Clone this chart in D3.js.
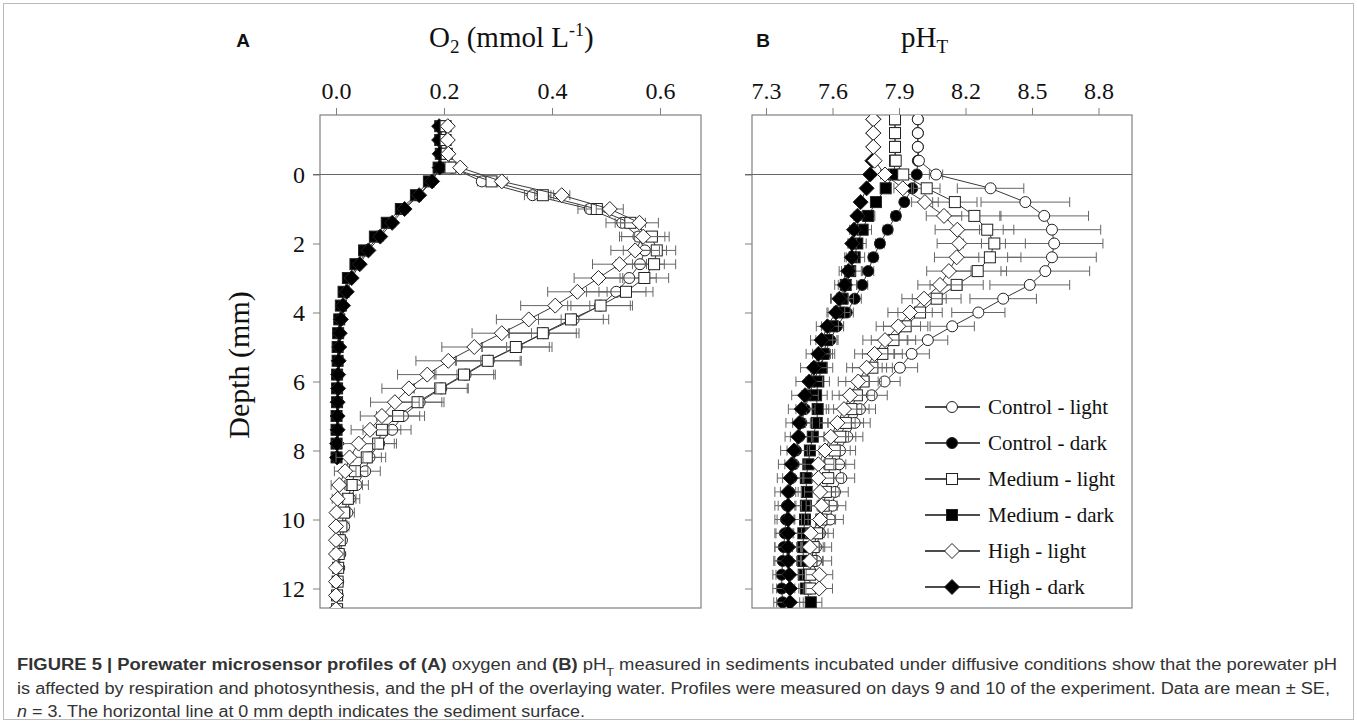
<!DOCTYPE html>
<html><head><meta charset="utf-8">
<script src="https://cdn.jsdelivr.net/npm/d3@7"></script>
<style>body{margin:0;background:#fff} svg{display:block}</style>
</head><body><svg id="c" width="1357" height="724"></svg>
<script>
// ---------------- DATA ----------------
const seriesNames = ["Control - light","Control - dark","Medium - light","Medium - dark","High - light","High - dark"];
const o2Ticks = [0.0, 0.2, 0.4, 0.6];
const phTicks = [7.3, 7.6, 7.9, 8.2, 8.5, 8.8];
const depthTicks = [0, 2, 4, 6, 8, 10, 12];

const depthO2 = [-1.4,-1.0,-0.6,-0.2,0.2,0.6,1.0,1.4,1.8,2.2,2.6,3.0,3.4,3.8,4.2,4.6,5.0,5.4,5.8,6.2,6.6,7.0,7.4,7.8,8.2,8.6,9.0,9.4,9.8,10.2,10.6,11.0,11.4,11.8,12.2,12.6];
const depthO2Dark = [-1.4,-1.0,-0.6,-0.2,0.2,0.6,1.0,1.4,1.8,2.2,2.6,3.0,3.4,3.8,4.2,4.6,5.0,5.4,5.8,6.2,6.6,7.0,7.4,7.8,8.2];

const o2ControlLight = [0.203,0.203,0.205,0.215,0.270,0.364,0.470,0.530,0.560,0.572,0.563,0.543,0.519,0.489,0.440,0.385,0.335,0.283,0.240,0.195,0.155,0.124,0.104,0.080,0.062,0.054,0.038,0.026,0.021,0.015,0.011,0.008,0.006,0.004,0.003,0.002];
const o2MediumLight  = [0.203,0.203,0.205,0.212,0.288,0.383,0.483,0.545,0.585,0.594,0.589,0.571,0.537,0.490,0.435,0.383,0.333,0.281,0.237,0.193,0.151,0.115,0.085,0.078,0.057,0.035,0.029,0.022,0.015,0.010,0.007,0.005,0.004,0.003,0.002,0.002];
const o2HighLight    = [0.207,0.207,0.208,0.230,0.307,0.418,0.507,0.562,0.569,0.554,0.525,0.486,0.447,0.406,0.357,0.307,0.256,0.208,0.169,0.135,0.109,0.085,0.063,0.042,0.025,0.017,0.006,0.003,0.001,0.000,0.000,0.000,0.000,0.000,0.000,0.000];
const o2ControlDark  = [0.195,0.195,0.196,0.193,0.177,0.152,0.124,0.100,0.078,0.057,0.041,0.026,0.017,0.011,0.008,0.006,0.005,0.004,0.004,0.003,0.003,0.002,0.002,0.002,0.002];
const o2MediumDark   = [0.193,0.193,0.194,0.190,0.172,0.148,0.120,0.094,0.072,0.052,0.036,0.022,0.014,0.009,0.006,0.004,0.003,0.003,0.002,0.002,0.002,0.001,0.001,0.001,0.001];
const o2HighDark     = [0.191,0.191,0.192,0.192,0.178,0.154,0.127,0.104,0.082,0.060,0.044,0.029,0.020,0.013,0.009,0.007,0.006,0.005,0.004,0.004,0.003,0.003,0.003,0.002,0.002];

const o2ControlLightSE = [0,0,0,0.003,0.008,0.015,0.022,0.030,0.035,0.040,0.045,0.050,0.055,0.060,0.065,0.065,0.065,0.060,0.055,0.050,0.045,0.040,0.035,0.032,0.030,0.028,0.022,0.018,0.013,0.009,0.006,0.004,0.003,0.002,0.001,0.001];
const o2MediumLightSE  = [0,0,0,0.003,0.008,0.015,0.020,0.028,0.032,0.035,0.040,0.045,0.050,0.055,0.060,0.062,0.062,0.060,0.055,0.050,0.045,0.040,0.035,0.030,0.027,0.024,0.020,0.015,0.011,0.008,0.005,0.004,0.003,0.002,0.001,0.001];
const o2HighLightSE    = [0,0,0,0.004,0.010,0.015,0.025,0.035,0.040,0.045,0.050,0.045,0.055,0.064,0.060,0.055,0.060,0.060,0.055,0.050,0.045,0.040,0.035,0.030,0.025,0.020,0.015,0.010,0.006,0.004,0.003,0.002,0.001,0.001,0.001,0.001];
const o2ControlDarkSE  = [0,0,0,0.002,0.004,0.005,0.006,0.006,0.006,0.006,0.005,0.004,0.004,0.003,0.003,0.002,0.002,0.002,0.002,0.001,0.001,0.001,0.001,0.001,0.001];
const o2MediumDarkSE   = [0,0,0,0.002,0.004,0.005,0.006,0.007,0.006,0.006,0.005,0.004,0.003,0.003,0.002,0.002,0.002,0.001,0.001,0.001,0.001,0.001,0.001,0.001,0.001];
const o2HighDarkSE     = [0,0,0,0.002,0.004,0.005,0.006,0.006,0.006,0.005,0.005,0.004,0.004,0.003,0.003,0.002,0.002,0.002,0.002,0.002,0.001,0.001,0.001,0.001,0.001];

const depthPH = [-1.6,-1.2,-0.8,-0.4,0,0.4,0.8,1.2,1.6,2.0,2.4,2.8,3.2,3.6,4.0,4.4,4.8,5.2,5.6,6.0,6.4,6.8,7.2,7.6,8.0,8.4,8.8,9.2,9.6,10.0,10.4,10.8,11.2,11.6,12.0,12.4];

const phControlLight = [7.985,7.985,7.985,7.99,8.067,8.313,8.47,8.555,8.59,8.60,8.59,8.56,8.49,8.37,8.258,8.14,8.03,7.957,7.904,7.835,7.777,7.724,7.70,7.667,7.634,7.63,7.64,7.611,7.60,7.589,7.544,7.526,7.526,null,null,null];
const phControlDark  = [7.985,7.985,7.985,7.985,7.98,7.96,7.924,7.886,7.849,7.814,7.784,7.761,7.734,7.70,7.664,7.62,7.59,7.565,7.54,7.515,7.495,7.475,7.46,7.45,7.435,7.425,7.415,7.405,7.395,7.39,7.385,7.38,7.375,7.371,7.371,7.375];
const phMediumLight  = [7.882,7.882,7.882,7.885,7.919,8.025,8.152,8.24,8.298,8.33,8.31,8.255,8.16,8.07,7.995,7.93,7.875,7.825,7.78,7.74,7.71,7.685,7.66,7.635,7.61,7.59,7.58,7.57,7.56,7.55,7.53,7.515,7.505,7.498,7.498,null];
const phMediumDark   = [7.882,7.882,7.882,7.882,7.877,7.84,7.796,7.761,7.736,7.712,7.70,7.68,7.66,7.645,7.63,7.60,7.575,7.56,7.551,7.536,7.526,7.533,7.529,7.511,7.498,7.491,7.48,7.484,7.48,7.476,7.468,7.468,7.468,7.47,7.48,7.502];
const phHighLight    = [7.784,7.784,7.784,7.79,7.837,7.917,8.017,8.103,8.163,8.172,8.16,8.125,8.085,8.013,7.95,7.897,7.837,7.79,7.754,7.716,7.679,7.652,7.622,7.592,7.566,7.536,7.536,7.544,7.551,7.544,7.502,7.498,7.498,7.541,7.54,null];
const phHighDark     = [7.784,7.784,7.784,7.78,7.77,7.754,7.727,7.712,7.697,7.689,7.687,7.671,7.656,7.631,7.615,7.577,7.551,7.536,7.516,7.495,7.476,7.461,7.45,7.446,7.426,7.416,7.411,7.40,7.40,7.40,7.40,7.40,7.40,7.405,7.408,7.408];

const phControlLightSE = [0,0,0,0,0.03,0.15,0.20,0.20,0.22,0.22,0.20,0.20,0.18,0.15,0.12,0.10,0.09,0.08,0.08,0.07,0.07,0.07,0.07,0.07,0.07,0.07,0.06,0.06,0.06,0.06,0.06,0.07,0.07,0,0,0];
const phControlDarkSE  = [0,0,0,0,0.01,0.01,0.015,0.02,0.02,0.02,0.02,0.025,0.025,0.03,0.03,0.03,0.03,0.035,0.035,0.035,0.035,0.04,0.04,0.04,0.04,0.04,0.04,0.04,0.04,0.04,0.04,0.04,0.04,0.04,0.04,0.04];
const phMediumLightSE  = [0,0,0,0,0.02,0.06,0.10,0.12,0.12,0.14,0.14,0.13,0.12,0.11,0.10,0.10,0.10,0.09,0.09,0.08,0.08,0.08,0.08,0.07,0.07,0.07,0.07,0.06,0.06,0.06,0.05,0.05,0.05,0.05,0.05,0];
const phMediumDarkSE   = [0,0,0,0,0.01,0.015,0.02,0.03,0.04,0.04,0.045,0.05,0.05,0.05,0.05,0.05,0.05,0.05,0.05,0.05,0.05,0.05,0.05,0.05,0.05,0.05,0.05,0.05,0.05,0.05,0.05,0.05,0.05,0.05,0.05,0.05];
const phHighLightSE    = [0,0,0,0,0.02,0.04,0.06,0.08,0.10,0.10,0.10,0.10,0.10,0.10,0.10,0.10,0.10,0.09,0.09,0.09,0.08,0.08,0.08,0.08,0.07,0.07,0.07,0.07,0.07,0.07,0.06,0.06,0.06,0.06,0.06,0];
const phHighDarkSE     = [0,0,0,0,0.01,0.01,0.01,0.015,0.02,0.02,0.025,0.03,0.03,0.04,0.04,0.05,0.05,0.055,0.06,0.06,0.06,0.06,0.06,0.06,0.06,0.06,0.06,0.06,0.06,0.06,0.06,0.06,0.06,0.06,0.06,0.06];

// ---------------- SETUP ----------------
const svg = d3.select("#c");
const serif = "'Liberation Serif','Times New Roman',serif";
const sans = "'Liberation Sans',Arial,sans-serif";
const boxCol = "#808080", lineCol = "#3a3a3a", errCol = "#666";

const plotTop = 115, plotBottom = 608;
const y = d3.scaleLinear().domain([0, 12]).range([174.5, 588.5]);
const panels = [
  {id:"A", left:320, right:701, x:d3.scaleLinear().domain([0,0.6]).range([336,660]), ticks:o2Ticks, fmt:d3.format(".1f"), labels:true},
  {id:"B", left:752, right:1132, x:d3.scaleLinear().domain([7.3,8.8]).range([766,1098.5]), ticks:phTicks, fmt:d3.format(".1f"), labels:false}
];

const shapes = ["circle","circle","square","square","diamond","diamond"];
const fills  = ["#fff","#000","#fff","#000","#fff","#000"];
function sym(g, shape, fill, cx, cy, s) {
  s = s || 1;
  if (shape === "circle") g.append("circle").attr("cx",cx).attr("cy",cy).attr("r",5.5*s).attr("fill",fill).attr("stroke","#222").attr("stroke-width",1);
  else if (shape === "square") g.append("rect").attr("x",cx-5.5*s).attr("y",cy-5.5*s).attr("width",11*s).attr("height",11*s).attr("fill",fill).attr("stroke","#222").attr("stroke-width",1);
  else g.append("path").attr("d",`M${cx},${cy-7.5*s}L${cx+7.5*s},${cy}L${cx},${cy+7.5*s}L${cx-7.5*s},${cy}Z`).attr("fill",fill).attr("stroke","#222").attr("stroke-width",1);
}

const seriesA = [
  {k:1, v:o2ControlDark, se:o2ControlDarkSE, d:depthO2Dark},
  {k:3, v:o2MediumDark, se:o2MediumDarkSE, d:depthO2Dark},
  {k:5, v:o2HighDark, se:o2HighDarkSE, d:depthO2Dark},
  {k:0, v:o2ControlLight, se:o2ControlLightSE, d:depthO2},
  {k:2, v:o2MediumLight, se:o2MediumLightSE, d:depthO2},
  {k:4, v:o2HighLight, se:o2HighLightSE, d:depthO2}
];
const seriesB = [
  {k:1, v:phControlDark, se:phControlDarkSE, d:depthPH},
  {k:3, v:phMediumDark, se:phMediumDarkSE, d:depthPH},
  {k:5, v:phHighDark, se:phHighDarkSE, d:depthPH},
  {k:0, v:phControlLight, se:phControlLightSE, d:depthPH},
  {k:2, v:phMediumLight, se:phMediumLightSE, d:depthPH},
  {k:4, v:phHighLight, se:phHighLightSE, d:depthPH}
];

panels.forEach((p, pi) => {
  const g = svg.append("g");
  const clipId = "clip" + p.id;
  svg.append("clipPath").attr("id", clipId).append("rect")
    .attr("x", p.left).attr("y", plotTop).attr("width", p.right - p.left).attr("height", plotBottom - plotTop);

  const ax = g.append("g").attr("transform", `translate(0,${plotTop})`)
    .call(d3.axisTop(p.x).tickValues(p.ticks).tickFormat(p.fmt).tickSize(7).tickPadding(9));
  ax.select(".domain").remove();
  ax.selectAll("line").attr("stroke", boxCol);
  ax.selectAll("text").attr("font-family", serif).attr("font-size", 24).attr("fill", "#111");

  const ay = g.append("g").attr("transform", `translate(${p.left},0)`)
    .call(d3.axisLeft(y).tickValues(depthTicks).tickSize(7).tickPadding(8).tickFormat(p.labels ? d3.format("d") : ""));
  ay.select(".domain").remove();
  ay.selectAll("line").attr("stroke", boxCol);
  ay.selectAll("text").attr("font-family", serif).attr("font-size", 24).attr("fill", "#111");

  g.append("rect").attr("x", p.left).attr("y", plotTop).attr("width", p.right - p.left).attr("height", plotBottom - plotTop)
    .attr("fill", "none").attr("stroke", boxCol).attr("stroke-width", 1.2);
  g.append("line").attr("x1", p.left - 7).attr("x2", p.right).attr("y1", y(0)).attr("y2", y(0))
    .attr("stroke", "#666").attr("stroke-width", 1.2);

  const plot = g.append("g").attr("clip-path", `url(#${clipId})`);
  const ser = pi === 0 ? seriesA : seriesB;
  ser.forEach(s => {
    const pts = s.d.map((dd, i) => ({d: dd, v: s.v[i], e: s.se[i]})).filter(q => q.v !== null && q.v !== undefined);
    const sg = plot.append("g");
    pts.forEach(q => {
      if (!q.e) return;
      const x1 = p.x(q.v - q.e), x2 = p.x(q.v + q.e), yy = y(q.d);
      sg.append("line").attr("x1", x1).attr("x2", x2).attr("y1", yy).attr("y2", yy).attr("stroke", errCol).attr("stroke-width", 1);
      [x1, x2].forEach(xx => sg.append("line").attr("x1", xx).attr("x2", xx).attr("y1", yy - 5).attr("y2", yy + 5).attr("stroke", errCol).attr("stroke-width", 1));
    });
    sg.append("path").datum(pts)
      .attr("d", d3.line().x(q => p.x(q.v)).y(q => y(q.d)))
      .attr("fill", "none").attr("stroke", lineCol).attr("stroke-width", 1);
    pts.forEach(q => sym(sg, shapes[s.k], fills[s.k], p.x(q.v), y(q.d)));
  });
});

svg.append("text").attr("x", 243).attr("y", 47).attr("text-anchor", "middle").attr("font-family", sans)
  .attr("font-weight", "bold").attr("font-size", 19).attr("fill", "#111").text("A");
svg.append("text").attr("x", 763).attr("y", 47).attr("text-anchor", "middle").attr("font-family", sans)
  .attr("font-weight", "bold").attr("font-size", 19).attr("fill", "#111").text("B");

const tA = svg.append("text").attr("x", 429).attr("y", 47).attr("font-family", serif).attr("font-size", 29).attr("fill", "#111");
tA.append("tspan").text("O");
tA.append("tspan").attr("font-size", 19).attr("dy", 6).text("2");
tA.append("tspan").attr("dy", -6).text(" (mmol L");
tA.append("tspan").attr("font-size", 18).attr("dy", -11).text("-1");
tA.append("tspan").attr("dy", 11).text(")");

const tB = svg.append("text").attr("x", 901).attr("y", 47).attr("font-family", serif).attr("font-size", 29).attr("fill", "#111");
tB.append("tspan").text("pH");
tB.append("tspan").attr("font-size", 19).attr("dy", 6).text("T");

svg.append("text").attr("transform", "translate(249,365) rotate(-90)").attr("text-anchor", "middle")
  .attr("font-family", serif).attr("font-size", 30).attr("fill", "#111").text("Depth (mm)");

const lg = svg.append("g");
[0,1,2,3,4,5].forEach((k, i) => {
  const yy = 407 + i * 36;
  lg.append("line").attr("x1", 925).attr("x2", 980).attr("y1", yy).attr("y2", yy).attr("stroke", "#111").attr("stroke-width", 1.3);
  sym(lg, shapes[k], fills[k], 952, yy, 1);
  lg.append("text").attr("x", 988).attr("y", yy).attr("dy", "0.33em").attr("font-family", serif)
    .attr("font-size", 21).attr("fill", "#111").text(seriesNames[k]);
});

svg.append("rect").attr("x", 3.5).attr("y", 3.5).attr("width", 1350).attr("height", 716)
  .attr("fill", "none").attr("stroke", "#bbb").attr("stroke-width", 1);

const capCol = "#333";
const c1 = svg.append("text").attr("x", 17).attr("y", 670).attr("font-family", sans).attr("font-size", 16).attr("fill", capCol)
  .attr("textLength", 1320).attr("lengthAdjust", "spacingAndGlyphs");
c1.append("tspan").attr("font-weight", "bold").text("FIGURE 5 | Porewater microsensor profiles of (A)");
c1.append("tspan").text(" oxygen and ");
c1.append("tspan").attr("font-weight", "bold").text("(B)");
c1.append("tspan").text(" pH");
c1.append("tspan").attr("font-size", 11).attr("baseline-shift", "sub").text("T");
c1.append("tspan").text(" measured in sediments incubated under diffusive conditions show that the porewater pH");

svg.append("text").attr("x", 17).attr("y", 694).attr("font-family", sans).attr("font-size", 16).attr("fill", capCol)
  .attr("textLength", 1313).attr("lengthAdjust", "spacingAndGlyphs")
  .text("is affected by respiration and photosynthesis, and the pH of the overlaying water. Profiles were measured on days 9 and 10 of the experiment. Data are mean \u00b1 SE,");

const c3 = svg.append("text").attr("x", 17).attr("y", 717).attr("font-family", sans).attr("font-size", 16).attr("fill", capCol)
  .attr("textLength", 568).attr("lengthAdjust", "spacingAndGlyphs");
c3.append("tspan").attr("font-style", "italic").text("n");
c3.append("tspan").text(" = 3. The horizontal line at 0 mm depth indicates the sediment surface.");
</script></body></html>
